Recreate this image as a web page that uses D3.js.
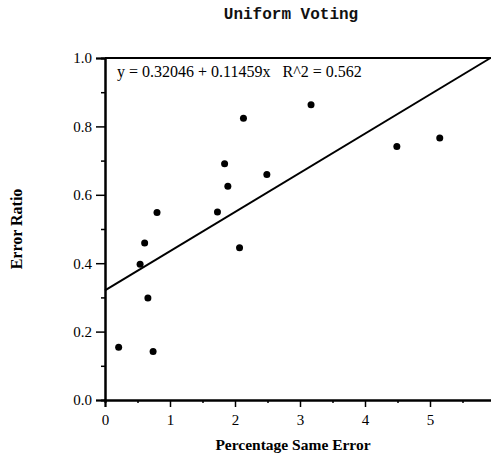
<!DOCTYPE html>
<html><head><meta charset="utf-8">
<script src="https://cdn.jsdelivr.net/npm/d3@7"></script>
<style>body{margin:0;background:#fff}svg{display:block}</style>
</head><body>
<script>
const title = "Uniform Voting";
const xLabel = "Percentage Same Error";
const yLabel = "Error Ratio";
const xValues = [0.21, 0.74, 0.66, 0.54, 0.61, 0.80, 1.73, 2.07, 1.89, 1.84, 2.13, 2.49, 3.17, 4.49, 5.15];
const yValues = [0.154, 0.142, 0.298, 0.397, 0.459, 0.548, 0.550, 0.445, 0.625, 0.691, 0.824, 0.659, 0.863, 0.741, 0.766];
const intercept = 0.32046;
const slope = 0.11459;
const r2 = 0.562;
const xTicks = [0, 1, 2, 3, 4, 5];
const yTicks = [0.0, 0.2, 0.4, 0.6, 0.8, 1.0];

const W = 491, H = 457;
const svg = d3.select("body").append("svg").attr("width", W).attr("height", H);
const x = d3.scaleLinear().domain([0, 6]).range([105, 495]);
const y = d3.scaleLinear().domain([0, 1]).range([400, 58]);

const serif = "'Liberation Serif', 'Times New Roman', serif";

// title
svg.append("text").attr("x", 291).attr("y", 19).attr("text-anchor", "middle")
  .attr("font-family", "'Liberation Mono', 'Courier New', monospace").attr("font-weight", "bold")
  .attr("font-size", 16).attr("fill", "#111").text(title);

// top frame
svg.append("line").attr("x1", x(0)).attr("x2", x(6)).attr("y1", y(1)).attr("y2", y(1))
  .attr("stroke", "#000").attr("stroke-width", 2);

// x axis
const xAxis = d3.axisBottom(x).tickValues(xTicks).tickFormat(d3.format("d")).tickSizeOuter(0).tickSize(7).tickPadding(7);
const gx = svg.append("g").attr("transform", `translate(0,${y(0)})`).call(xAxis);
const gxm = svg.append("g").attr("transform", `translate(0,${y(0)})`)
  .call(d3.axisBottom(x).tickValues(d3.range(0.5, 6, 1)).tickFormat("").tickSizeOuter(0).tickSize(3));
// y axis
const yAxis = d3.axisLeft(y).tickValues(yTicks).tickFormat(d3.format(".1f")).tickSizeOuter(0).tickSize(9).tickPadding(4);
const gy = svg.append("g").attr("transform", `translate(${x(0)},0)`).call(yAxis);
const gym = svg.append("g").attr("transform", `translate(${x(0)},0)`)
  .call(d3.axisLeft(y).tickValues(d3.range(0.1, 1, 0.2)).tickFormat("").tickSizeOuter(0).tickSize(4));
[gx, gxm, gy, gym].forEach(g => {
  g.selectAll("path").attr("stroke", "#000").attr("stroke-width", 2);
  g.selectAll("line").attr("stroke", "#000").attr("stroke-width", 1.5);
  g.selectAll("text").attr("font-family", serif).attr("font-size", 15).attr("fill", "#000");
});

// regression line
const xEnd = (1 - intercept) / slope;
svg.append("line").attr("x1", x(0)).attr("y1", y(intercept)).attr("x2", x(xEnd)).attr("y2", y(intercept + slope * xEnd))
  .attr("stroke", "#000").attr("stroke-width", 2);

// points
svg.append("g").selectAll("circle").data(xValues.map((v, i) => [v, yValues[i]])).join("circle")
  .attr("cx", d => x(d[0])).attr("cy", d => y(d[1])).attr("r", 3.5).attr("fill", "#000");

// equation
svg.append("text").attr("x", 117).attr("y", 77).attr("font-family", serif).attr("font-size", 16)
  .attr("xml:space", "preserve").style("white-space", "pre")
  .text(`y = ${intercept} + ${slope}x   R^2 = ${r2}`);

// axis labels
svg.append("text").attr("x", 293).attr("y", 450).attr("text-anchor", "middle")
  .attr("font-family", serif).attr("font-weight", "bold").attr("font-size", 15.5).text(xLabel);
svg.append("text").attr("transform", "translate(22,229) rotate(-90)").attr("text-anchor", "middle")
  .attr("font-family", serif).attr("font-weight", "bold").attr("font-size", 16).text(yLabel);
</script>
</body></html>
